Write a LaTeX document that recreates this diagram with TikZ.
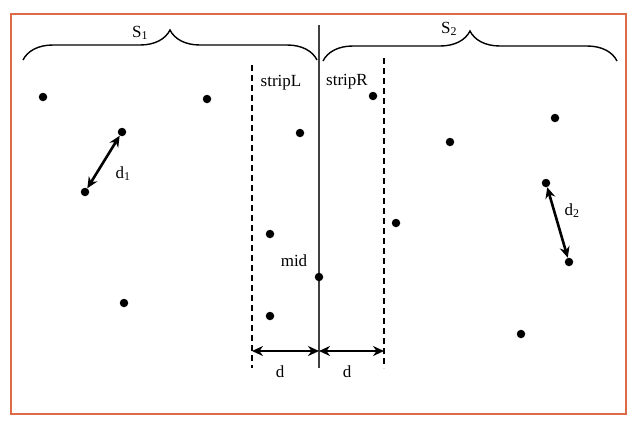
\documentclass[tikz,border=0pt]{standalone}
\usepackage{fontspec}
\setmainfont{Liberation Serif}
\usetikzlibrary{arrows.meta,decorations.pathreplacing}
\definecolor{framecol}{RGB}{222,106,72}
\definecolor{midcol}{RGB}{64,64,64}

\begin{document}
\begin{tikzpicture}[x=1pt,y=-1pt,>={Stealth[length=11pt,width=10pt]},
  every node/.style={font=\fontsize{17}{20}\selectfont},
  pt/.style={circle,fill,inner sep=0pt,minimum size=8.5pt},
  lbl/.style={anchor=base,inner sep=0pt},
  span/.style={<->,line width=2.6pt},
  strip/.style={line width=1.8pt,dash pattern=on 6pt off 4pt},
  brc/.style={decorate,decoration={brace,amplitude=30pt,aspect=0.5},line width=1.4pt}]
 \useasboundingbox (0,0) rectangle (640,426);
 \draw[framecol,line width=1.5pt] (11,14) rectangle (626,414);

 % dividing line and strips
 \coordinate (midtop) at (319,25);
 \coordinate (midbot) at (319,368);
 \coordinate (ltop) at (252,65);
 \coordinate (lbot) at (252,368);
 \coordinate (rtop) at (384,58);
 \coordinate (rbot) at (384,368);
 \draw[midcol,line width=1.8pt] (midtop) -- (midbot);
 \draw[strip] (ltop) -- (lbot);
 \draw[strip] (rtop) -- (rbot);

 % halves
 \draw[brc] (23,60) -- (317,60);
 \draw[brc] (323,61) -- (617,61);
 \node[lbl] (s1) at (140,37) {S\textsubscript{1}};
 \node[lbl] (s2) at (449,33) {S\textsubscript{2}};
 \node[lbl] (stripl) at (281,86) {stripL};
 \node[lbl] (stripr) at (347,85) {stripR};

 % points
 \node[pt] (p1) at (43,97) {};
 \node[pt] (p2) at (207,99) {};
 \node[pt] (p3) at (122,132) {};
 \node[pt] (p4) at (85,192) {};
 \node[pt] (p5) at (300,133) {};
 \node[pt] (p6) at (270,234) {};
 \node[pt] (p7) at (270,316) {};
 \node[pt] (p8) at (124,303) {};
 \node[pt] (pm) at (319,277) {};
 \node[pt] (q1) at (373,96) {};
 \node[pt] (q2) at (450,142) {};
 \node[pt] (q3) at (555,118) {};
 \node[pt] (q4) at (546,183) {};
 \node[pt] (q5) at (569,262) {};
 \node[pt] (q6) at (396,223) {};
 \node[pt] (q7) at (521,334) {};
 \node[lbl] (midlbl) at (294,266) {mid};

 % closest pairs
 \draw[span] (p4) -- (p3);
 \node[lbl] (d1) at (123,178) {d\textsubscript{1}};
 \draw[span] (q4) -- (q5);
 \node[lbl] (d2) at (572,215) {d\textsubscript{2}};

 % strip width
 \coordinate (dl) at (252,351);
 \coordinate (dm) at (319,351);
 \coordinate (dr) at (384,351);
 \draw[span] (dl) -- (dm);
 \draw[span] (dm) -- (dr);
 \node[lbl] (dleft) at (280,377) {d};
 \node[lbl] (dright) at (347,377) {d};
\end{tikzpicture}
\end{document}
